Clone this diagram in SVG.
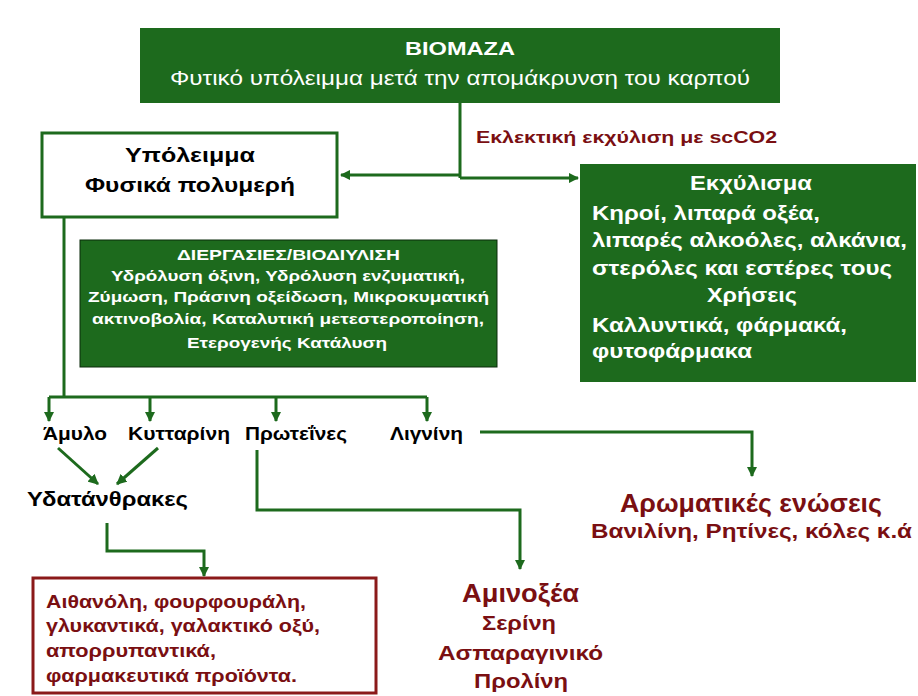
<svg xmlns="http://www.w3.org/2000/svg" width="918" height="696" viewBox="0 0 918 696">
<style>
text{font-family:"Liberation Sans",Arial,sans-serif;font-weight:bold}
.w{fill:#fff}.k{fill:#000}.r{fill:#7a0f12}
.ln{fill:none;stroke:#1d6a1d;stroke-width:3}
.g{fill:#1d6a1d}
</style>
<defs><marker id="a" viewBox="0 0 10 10" refX="9" refY="5" markerWidth="3.5" markerHeight="3.5" orient="auto"><path d="M0,0L10,5L0,10z" fill="#1d6a1d"/></marker></defs>
<rect width="918" height="696" fill="#fff"/>
<g id="biomaza"><rect x="140" y="28" width="640" height="75" class="g"/>
<text x="405" y="55" class="w" font-size="19" textLength="110" lengthAdjust="spacingAndGlyphs">ΒΙΟΜΑΖΑ</text>
<text x="170" y="85" class="w" font-size="21" textLength="580" lengthAdjust="spacingAndGlyphs" style="font-weight:normal">Φυτικό υπόλειμμα μετά την απομάκρυνση του καρπού</text></g>
<g id="ypoleimma"><rect x="42" y="133" width="295" height="84" fill="#fff" stroke="#1d6a1d" stroke-width="3"/>
<text x="125" y="162" class="k" font-size="21" textLength="130" lengthAdjust="spacingAndGlyphs">Υπόλειμμα</text>
<text x="85" y="192" class="k" font-size="21" textLength="210" lengthAdjust="spacingAndGlyphs">Φυσικά πολυμερή</text></g>
<text x="476" y="143" class="r" font-size="16" textLength="301" lengthAdjust="spacingAndGlyphs">Εκλεκτική εκχύλιση με scCO2</text>
<g id="ekxylisma"><rect x="580" y="164" width="336" height="218" class="g"/>
<g class="w" font-size="21">
<text x="690" y="190" textLength="122" lengthAdjust="spacingAndGlyphs">Εκχύλισμα</text>
<text x="592" y="220" textLength="228" lengthAdjust="spacingAndGlyphs">Κηροί, λιπαρά οξέα,</text>
<text x="592" y="247" textLength="315" lengthAdjust="spacingAndGlyphs">λιπαρές αλκοόλες, αλκάνια,</text>
<text x="592" y="275" textLength="300" lengthAdjust="spacingAndGlyphs">στερόλες και εστέρες τους</text>
<text x="707" y="302" textLength="90" lengthAdjust="spacingAndGlyphs">Χρήσεις</text>
<text x="592" y="332" textLength="255" lengthAdjust="spacingAndGlyphs">Καλλυντικά, φάρμακά,</text>
<text x="592" y="358" textLength="160" lengthAdjust="spacingAndGlyphs">φυτοφάρμακα</text></g></g>
<g id="diergasies"><rect x="80" y="240" width="417" height="127" class="g" stroke="#0b2a0b"/>
<g class="w" font-size="15">
<text x="177" y="260" textLength="223" lengthAdjust="spacingAndGlyphs">ΔΙΕΡΓΑΣΙΕΣ/ΒΙΟΔΙΥΛΙΣΗ</text>
<text x="111" y="281" textLength="354" lengthAdjust="spacingAndGlyphs">Υδρόλυση όξινη, Υδρόλυση ενζυματική,</text>
<text x="88" y="302" textLength="401" lengthAdjust="spacingAndGlyphs">Ζύμωση,  Πράσινη οξείδωση, Μικροκυματική</text>
<text x="92" y="324" textLength="392" lengthAdjust="spacingAndGlyphs">ακτινοβολία,  Καταλυτική μετεστεροποίηση,</text>
<text x="187" y="348" textLength="200" lengthAdjust="spacingAndGlyphs">Ετερογενής Κατάλυση</text></g></g>
<g id="labels" class="k" font-size="18">
<text x="43" y="440" textLength="64" lengthAdjust="spacingAndGlyphs">Άμυλο</text>
<text x="128" y="440" textLength="102" lengthAdjust="spacingAndGlyphs">Κυτταρίνη</text>
<text x="245" y="440" textLength="102" lengthAdjust="spacingAndGlyphs">Πρωτεΐνες</text>
<text x="390" y="440" textLength="73" lengthAdjust="spacingAndGlyphs">Λιγνίνη</text>
<text x="27" y="506" font-size="20" textLength="161" lengthAdjust="spacingAndGlyphs">Υδατάνθρακες</text></g>
<g id="products"><rect x="33" y="578" width="343" height="115" fill="#fff" stroke="#8b1a1a" stroke-width="3"/>
<g class="r" font-size="18">
<text x="46" y="608" textLength="260" lengthAdjust="spacingAndGlyphs">Αιθανόλη, φουρφουράλη,</text>
<text x="46" y="632" textLength="274" lengthAdjust="spacingAndGlyphs">γλυκαντικά, γαλακτικό οξύ,</text>
<text x="46" y="657" textLength="170" lengthAdjust="spacingAndGlyphs">απορρυπαντικά,</text>
<text x="46" y="682" textLength="251" lengthAdjust="spacingAndGlyphs">φαρμακευτικά προϊόντα.</text></g></g>
<g id="aminoxea" class="r">
<text x="462" y="602" font-size="26" textLength="117" lengthAdjust="spacingAndGlyphs">Αμινοξέα</text>
<text x="482" y="630" font-size="20" textLength="74" lengthAdjust="spacingAndGlyphs">Σερίνη</text>
<text x="438" y="660" font-size="20" textLength="165" lengthAdjust="spacingAndGlyphs">Ασπαραγινικό</text>
<text x="474" y="688" font-size="20" textLength="94" lengthAdjust="spacingAndGlyphs">Προλίνη</text></g>
<g id="aromatic" class="r">
<text x="620" y="512" font-size="26" textLength="262" lengthAdjust="spacingAndGlyphs">Αρωματικές ενώσεις</text>
<text x="591" y="538" font-size="20" textLength="321" lengthAdjust="spacingAndGlyphs">Βανιλίνη, Ρητίνες, κόλες κ.ά</text></g>
<g id="connectors" class="ln">
<path d="M460,103V178"/><path d="M460,175H341" marker-end="url(#a)"/><path d="M460,178H578" marker-end="url(#a)"/>
<path d="M64,217V397"/><path d="M49,397H427"/>
<path d="M49,397V421" marker-end="url(#a)"/><path d="M150,397V421" marker-end="url(#a)"/><path d="M276,397V421" marker-end="url(#a)"/><path d="M427,397V421" marker-end="url(#a)"/>
<path d="M58,448L98,484" marker-end="url(#a)"/><path d="M158,448L117,484" marker-end="url(#a)"/>
<path d="M107,523V551H204V576" marker-end="url(#a)"/>
<path d="M257,450V510H520V569" marker-end="url(#a)"/>
<path d="M480,432H752V476" marker-end="url(#a)"/>
</g>
</svg>
